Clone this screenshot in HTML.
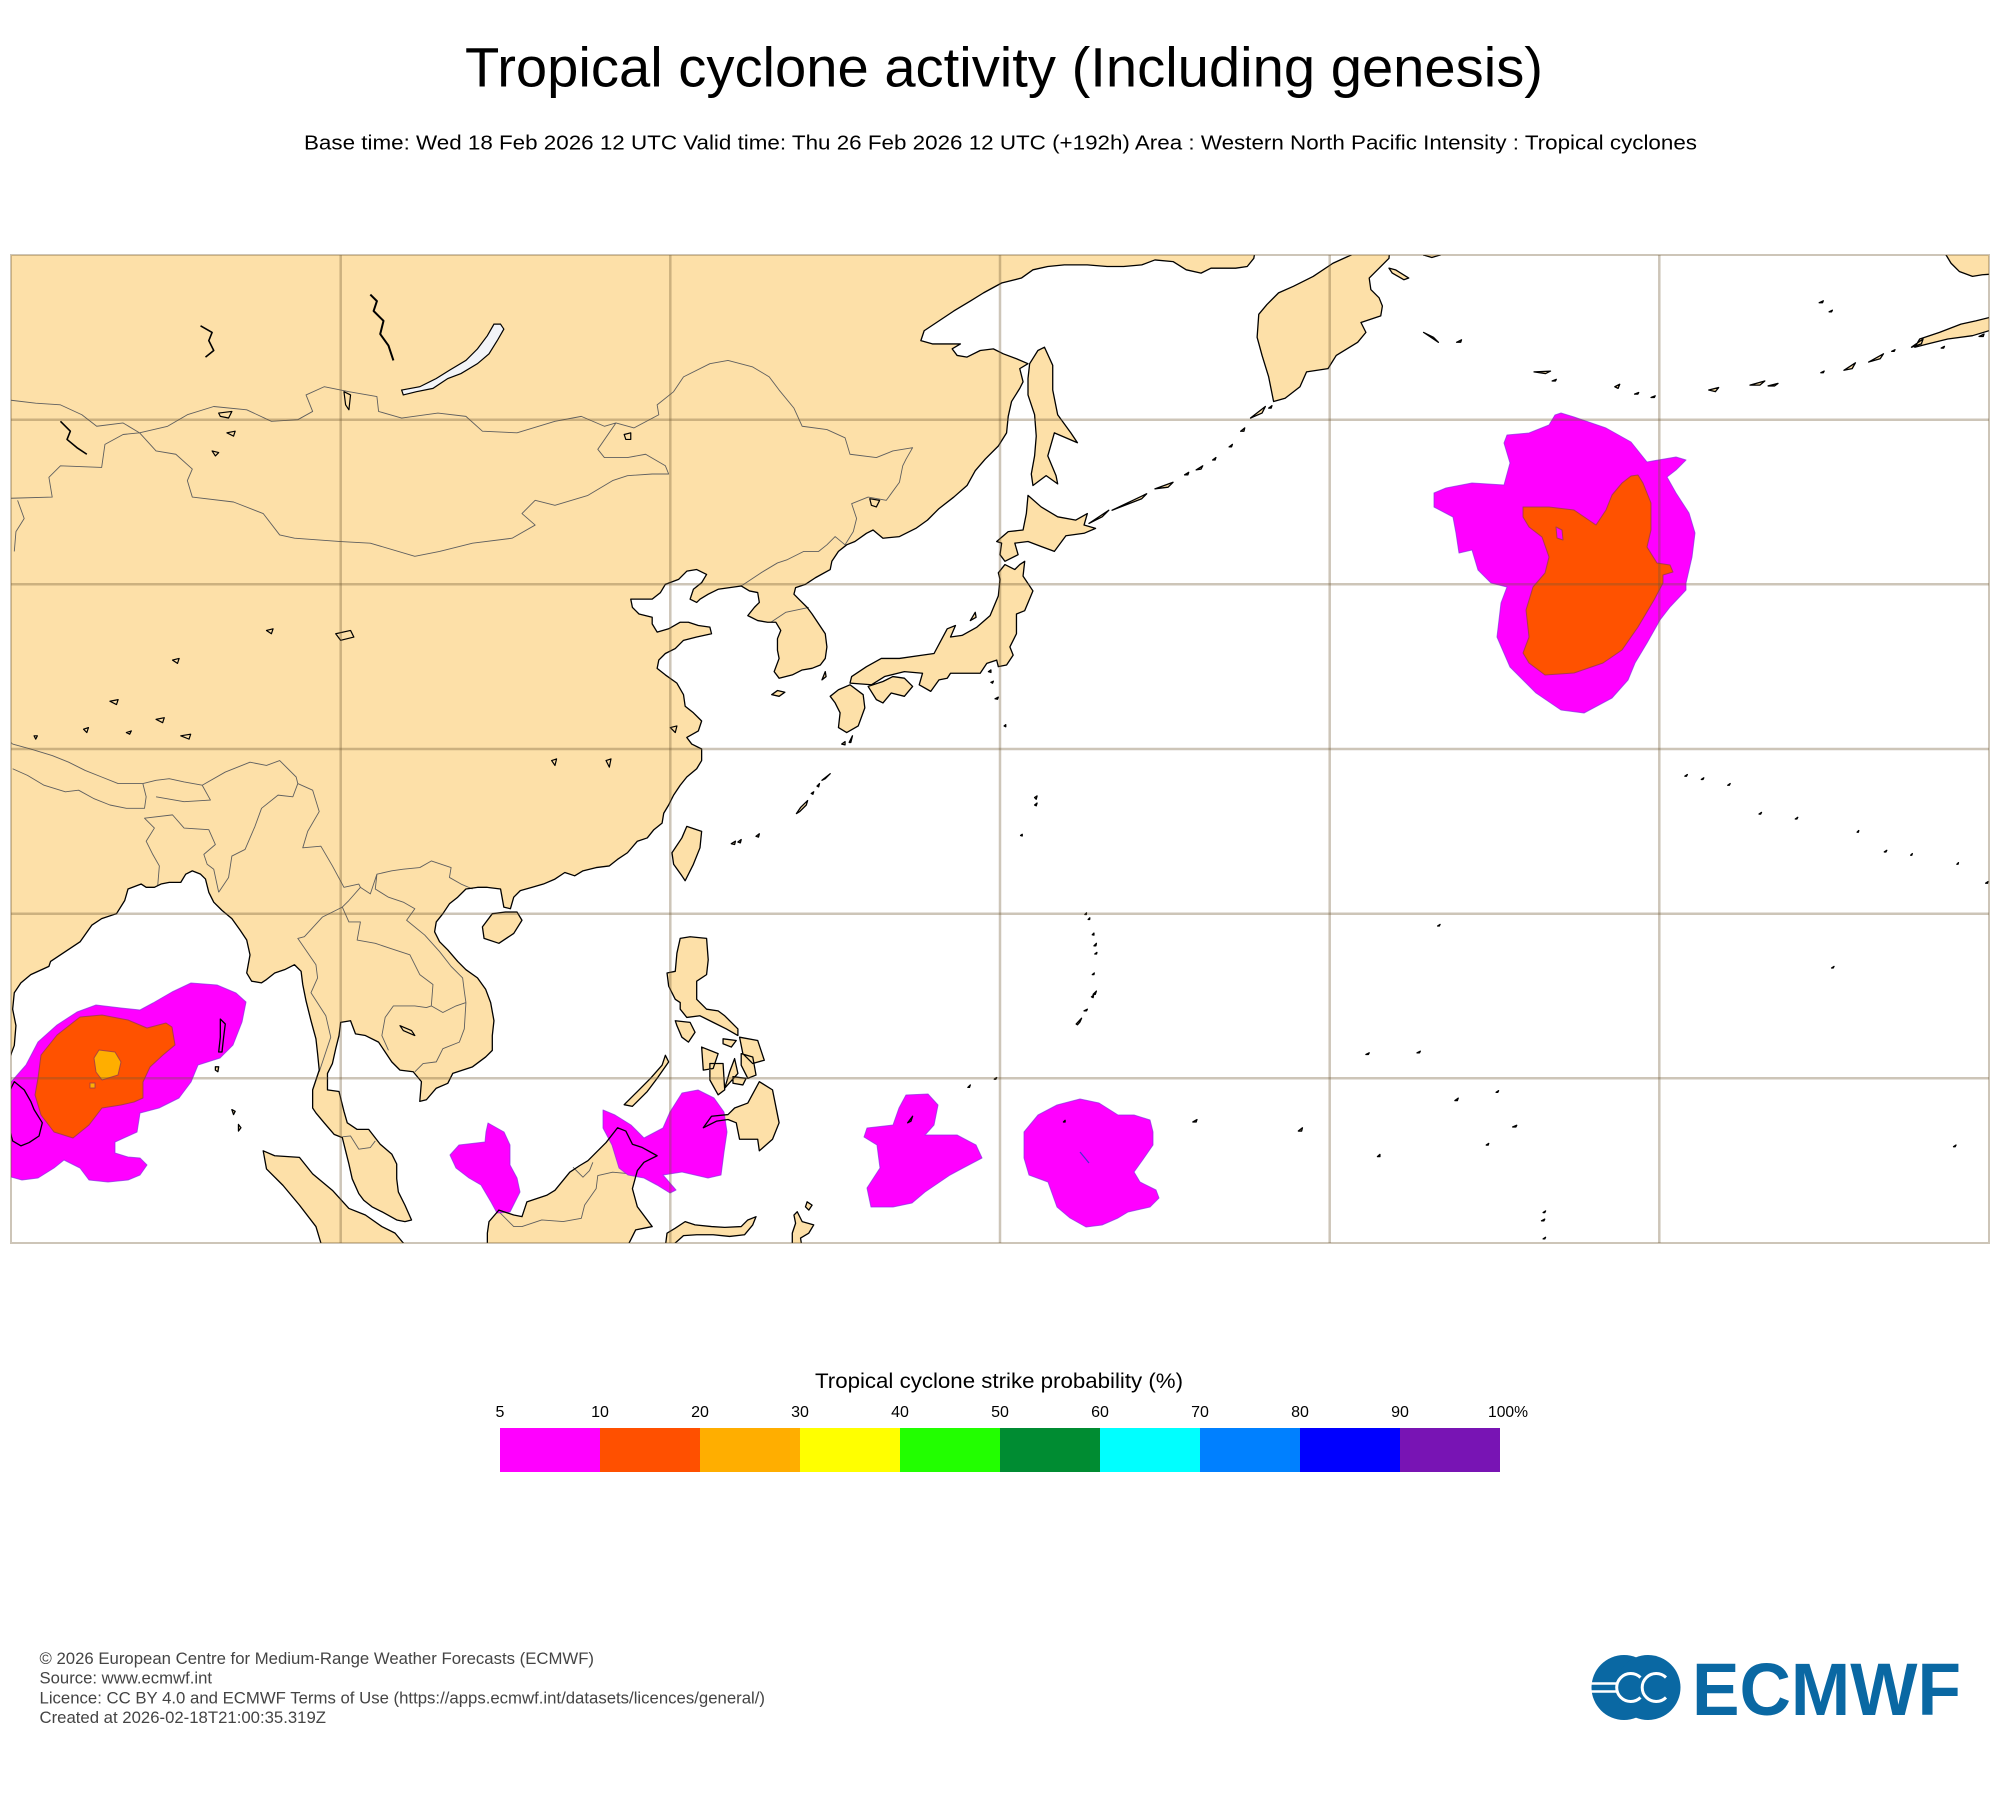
<!DOCTYPE html>
<html>
<head>
<meta charset="utf-8">
<style>
html,body{margin:0;padding:0;background:#ffffff;}
svg{display:block;}
</style>
</head>
<body>
<svg width="2000" height="1800" viewBox="0 0 2000 1800" xmlns="http://www.w3.org/2000/svg" font-family="'Liberation Sans', Arial, sans-serif">
<defs>
<clipPath id="mapclip"><rect x="11" y="255" width="1978" height="988"/></clipPath>
<path id="land" vector-effect="non-scaling-stroke" d="
M70,70 L70,10.3 79.85,10.3 79.9,11.2 80.2,12.0 80.3,13.2 80.1,14.2 80.2,15.2 80.6,15.8 81.2,16.3 82.3,16.8 82.4,17.1 83.3,17.7 84.2,18.3 84.9,19.3 85.5,19.7 86.4,20.0 86.9,20.8 87.1,21.5 87.9,21.8 88.2,21.6 88.7,21.6 89.1,21.8 89.6,21.9 90.3,21.9 90.6,22.4 91.0,22.6 91.5,22.4 91.8,22.1 92.0,21.3 92.3,20.7 92.8,20.2 93.4,19.7 93.9,19.0 94.3,18.4 94.5,17.5 94.3,16.4 94.6,15.9 95.2,15.8 95.5,16.0 96.0,16.4 96.6,16.6 97.2,16.9 97.6,16.5 97.7,15.7 97.9,14.7 98.2,13.5 98.5,12.4 98.6,11.5 98.7,10.5 98.3,9.3 98.3,8.2 98.5,7.9 99.0,7.3 99.6,6.6 100.1,6.4 100.3,5.6 100.5,4.8 100.7,3.9 101.1,3.0 101.4,2.6 101.9,2.2 102.5,1.9 103.4,1.4 103.9,1.3 104.3,1.4 103.9,2.3 103.5,3.1 103.4,3.9 103.4,4.8 103.1,5.4 102.4,6.0 101.7,6.9 101.0,6.9 100.4,7.3 100.2,8.0 99.9,9.2 99.2,9.3 99.2,10.3 99.5,10.9 99.7,11.8 99.9,12.6 100.0,13.4 100.6,13.5 100.9,12.7 101.5,12.6 102.3,12.2 102.7,11.6 103.1,11.0 103.6,10.5 104.4,10.4 104.9,9.8 104.8,8.6 105.2,8.7 105.8,9.4 106.5,9.7 106.8,10.3 107.4,10.5 108.0,10.7 108.8,11.3 109.2,11.7 109.2,12.6 109.3,13.5 109.1,14.6 108.8,15.4 108.3,16.1 107.6,16.6 107.1,17.1 106.5,17.8 106.0,18.3 105.7,18.9 105.8,19.5 106.2,20.0 106.6,20.6 107.1,21.0 107.6,21.5 108.3,21.6 108.9,21.6 109.7,21.5 109.9,20.4 110.3,20.3 110.5,21.0 110.9,21.4 111.6,21.6 112.3,21.8 113.0,22.1 113.6,22.5 114.2,22.3 114.7,22.6 115.5,22.8 116.3,22.9 116.8,23.3 117.4,23.7 118.0,24.4 118.6,24.6 119.0,25.1 119.5,25.5 119.6,26.1 119.9,26.6 120.2,27.2 120.6,27.8 121.0,28.3 121.6,28.8 121.9,29.3 121.9,30.0 121.3,30.3 121.0,30.7 121.7,31.1 121.9,31.7 121.4,32.2 120.9,32.6 120.8,33.3 120.4,34.0 119.7,34.5 119.2,34.9 119.3,35.4 119.7,35.8 120.3,36.1 120.8,36.6 121.6,36.8 122.5,37.0 122.4,37.4 121.7,37.5 121.1,37.7 120.6,37.7 119.9,37.3 119.2,37.1 118.9,37.6 118.9,38.0 118.1,38.2 117.7,38.6 117.6,39.1 118.2,39.1 118.9,39.1 119.4,39.5 119.7,40.0 120.5,40.3 121.0,40.8 121.6,40.9 122.2,40.6 121.9,40.1 121.4,39.7 121.2,39.1 121.6,38.9 121.8,39.1 122.3,39.4 122.9,39.7 123.6,39.8 124.3,39.9 124.8,39.6 125.3,39.5 125.4,38.9 125.1,38.6 124.7,38.1 125.3,37.8 125.9,37.7 126.4,37.7 126.7,37.2 126.5,36.7 126.5,36.0 126.6,35.5 126.3,34.7 126.6,34.3 127.4,34.5 128.0,34.8 128.6,34.9 129.1,35.1 129.4,35.5 129.5,36.2 129.4,37.0 129.0,37.6 128.6,38.2 128.3,38.6 127.8,39.1 127.5,39.4 127.6,39.8 128.2,40.0 128.8,40.4 129.7,40.9 129.8,41.4 130.2,42.0 130.7,42.4 131.2,42.6 131.9,43.1 132.3,43.3 132.9,42.8 133.9,42.9 134.9,43.4 135.6,43.9 136.3,44.6 137.2,45.3 138.0,46.0 138.5,46.9 139.1,47.6 139.9,48.4 140.4,49.2 140.5,50.2 140.7,51.1 141.2,51.9 141.4,52.3 141.2,53.1 141.7,53.4 141.0,53.7 140.2,54.0 139.6,54.3 138.8,54.2 138.0,53.8 137.4,53.9 137.1,54.3 137.6,54.6 136.8,54.6 135.9,54.6 135.2,54.8 135.4,55.4 136.3,56.0 137.2,56.6 138.2,57.2 139.0,57.7 140.1,58.3 141.3,58.6 142.0,59.1 142.9,59.3 143.9,59.4 145.3,59.4 146.5,59.3 147.5,59.3 148.6,59.4 149.4,59.7 150.5,59.6 151.3,59.1 152.2,58.9 152.8,59.2 153.6,59.2 154.3,59.2 155.0,59.3 155.4,59.8 155.6,61 156,70 Z
M161.5,61 L161.3,60 160.2,59.5 159.0,58.7 157.8,58.1 156.9,57.7 156.2,57.0 155.7,56.4 155.6,55.0 155.9,53.9 156.3,52.6 156.6,51.1 157.3,51.3 158.2,52.0 158.6,52.9 159.9,53.1 160.4,53.9 161.7,54.7 162.2,55.3 161.9,55.9 163.1,56.3 163.2,56.9 163.0,57.4 162.5,57.9 162.4,58.6 163.0,59.2 163.6,59.8 163.7,61 Z
M163.6,59.2 L164.0,59.1 164.8,58.6 164.5,58.5 163.8,58.9 Z
M165.6,61 L165.7,60 166.2,59.85 166.7,60 166.8,61 Z
M197.2,61 L197.4,60 197.7,59.5 198.2,59.0 199.0,58.7 199.6,58.8 201,58.9 201,61 Z
M201,55.4 L200.0,55.4 199.0,55.1 197.5,54.9 196.3,54.6 195.5,54.4 195.8,54.9 197.0,55.3 198.3,55.8 199.2,56.0 200.0,56.2 201,56.4 Z
M141.7,45.4 L142.5,44.7 143.5,44.1 144.6,43.9 145.3,44.3 145.1,43.6 145.8,43.4 145.1,43.1 144.0,42.95 143.3,42.0 142.5,42.3 141.7,42.6 140.9,42.5 141.1,41.8 140.3,41.4 140.0,41.8 140.1,42.5 139.8,42.6 140.5,43.2 141.4,43.3 141.6,44.3 Z
M141.5,41.4 L141.4,40.5 142.0,39.6 141.5,38.4 141.0,38.2 141.0,37.0 140.6,36.2 140.8,35.7 140.4,35.1 139.9,35.0 139.8,35.4 139.2,35.2 138.8,34.6 138.2,34.6 137.0,34.6 136.8,34.3 136.3,34.2 135.8,33.5 135.1,33.9 135.3,34.6 134.2,34.7 133.0,34.4 132.2,33.9 130.9,34.0 131.0,34.4 131.9,35.0 132.8,35.5 133.9,35.5 135.3,35.7 136.0,35.8 136.8,37.3 137.3,37.5 137.0,36.8 137.7,36.9 138.6,37.4 139.4,38.1 139.9,39.3 140.0,40.3 139.9,40.7 140.3,41.2 140.9,40.9 141.2,41.2 Z
M132.5,33.0 L132.9,32.8 133.4,33.4 134.2,33.2 134.7,33.8 134.2,34.3 133.5,34.4 132.9,34.1 132.0,33.8 Z
M130.9,33.9 L131.7,33.3 131.8,32.5 131.4,31.4 130.7,31.0 130.2,31.3 130.3,32.2 130.0,32.8 129.7,33.2 130.2,33.6 Z
M142.7,54.4 L143.2,53.3 143.2,51.8 143.5,50.3 144.3,49.2 144.7,48.6 143.3,49.2 142.9,47.8 143.4,46.6 143.5,46.1 142.8,46.6 142.0,46.0 141.9,46.7 142.1,47.8 142.2,49.0 142.1,50.3 141.7,51.5 141.7,52.5 141.8,53.4 142.3,54.2 Z
M121.0,25.3 L121.9,25.0 121.8,24.0 121.4,23.0 120.9,22.0 120.7,22.3 120.2,23.0 120.1,23.7 120.7,24.6 Z
M108.6,19.2 L109.2,20.0 110.0,20.1 110.7,20.1 111.0,19.6 110.5,18.8 109.6,18.2 108.7,18.5 Z
M120.6,18.5 L121.2,18.6 122.2,18.5 122.3,17.2 122.2,16.3 121.6,15.9 121.6,14.8 122.2,14.2 122.9,14.1 123.3,13.8 124.1,13.0 124.1,12.6 123.4,13.0 122.6,13.4 121.8,13.8 121.0,13.7 120.6,14.2 120.6,14.6 120.3,14.8 119.9,15.6 119.8,16.4 120.3,16.5 120.4,17.6 Z
M120.3,13.5 L121.2,13.4 121.5,12.8 121.1,12.2 120.7,12.5 120.4,13.2 Z
M124.2,12.5 L125.3,12.3 125.7,11.1 125.0,10.9 124.4,11.5 Z
M124.3,11.5 L125.0,11.3 125.2,10.2 124.7,10.0 124.3,10.8 Z
M121.9,11.9 L122.9,11.5 122.6,10.6 122.0,10.5 Z
M122.4,10.9 L123.2,10.9 123.3,9.3 122.9,9.0 122.4,9.9 Z
M123.9,11.2 L124.1,10.3 123.3,9.4 123.6,10.4 Z
M123.8,10.1 L124.6,10.0 124.4,9.6 123.8,9.7 Z
M123.2,12.4 L124.0,12.3 123.7,11.9 123.2,12.1 Z
M117.2,8.4 L118.0,9.2 118.8,10.0 119.5,10.8 119.7,11.4 119.9,11.0 119.2,10.0 118.6,9.2 117.7,8.3 Z
M122.0,7.0 L122.5,7.7 123.5,7.8 123.9,8.2 124.7,8.5 125.4,9.8 126.2,9.3 126.6,7.3 126.2,6.3 125.4,5.6 125.3,6.3 124.2,6.3 124.0,7.3 123.5,7.5 122.8,7.4 Z
M108.9,-1 L108.9,0.6 109.0,1.3 109.6,2.0 110.5,1.7 111.0,1.6 111.3,2.5 112.5,2.9 113.0,3.2 113.9,4.3 114.5,4.7 115.0,5.0 115.5,5.5 116.1,6.1 116.8,7.0 117.3,6.8 117.7,6.0 118.3,5.8 119.2,5.3 118.4,4.9 118.0,4.4 117.7,3.3 118.0,2.2 118.9,1.0 117.9,0.8 117.5,0 117.4,-1 Z
M95.3,5.6 L96.0,5.3 97.5,5.2 98.3,4.2 99.5,3.2 100.5,2.1 101.5,1.7 102.5,1.0 103.3,0.6 103.8,0 104,-1 98.6,-1 98.8,0 98.5,1.0 97.5,2.3 96.5,3.5 95.5,4.5 Z
M119.6,-1 L119.8,0.6 120.3,0.9 120.9,1.3 121.5,1.1 122.5,1.0 123.3,0.95 124.3,1.0 124.7,1.4 125.2,1.6 125.0,1.1 124.5,0.5 123.6,0.4 122.6,0.5 121.6,0.5 120.8,0.45 120.3,0 120.4,-1 Z
M127.7,1.9 L128.0,1.3 128.7,1.1 128.4,0.6 127.9,0.3 128.1,-1 127.4,-1 127.4,0.6 127.6,1.2 127.5,1.7 Z
M128.3,2.5 L128.6,2.3 128.4,2.0 128.2,2.2 Z
M80.2,9.8 L80.8,9.3 81.2,8.6 81.4,8.1 81.9,7.3 81.7,6.5 81.1,6.1 80.6,5.9 80.1,6.2 79.9,6.9 79.8,7.6 79.9,8.4 79.9,9.2 Z
M92.7,13.6 L93.0,13.3 92.9,12.5 92.8,11.6 92.6,11.6 92.7,12.5 Z
M92.4,10.7 L92.6,10.7 92.55,10.4 92.4,10.5 Z
M93.4,8.1 L93.6,8.0 93.5,7.8 Z M93.8,7.2 L93.95,7.0 93.8,6.8 Z
M126.15,33.3 L126.5,33.55 126.95,33.45 126.6,33.2 Z
M129.2,34.2 L129.4,34.7 129.45,34.4 Z
M138.2,37.8 L138.5,38.3 138.55,38.0 Z
M127.65,26.08 L127.9,26.45 128.33,26.87 128.25,26.6 127.85,26.2 Z
M129.2,28.1 L129.7,28.5 129.4,28.2 Z
M130.85,30.4 L131.05,30.8 130.95,30.4 Z
M130.4,30.3 L130.6,30.45 130.6,30.25 Z
M125.2,24.7 L125.4,24.85 125.35,24.65 Z M124.1,24.35 L124.3,24.5 124.25,24.3 Z M123.7,24.25 L123.95,24.4 123.9,24.2 Z
M128.9,27.75 L129.05,27.9 129.0,27.7 Z M128.55,27.3 L128.7,27.4 128.65,27.25 Z
M139.3,34.7 L139.45,34.8 139.45,34.65 Z M139.45,34.05 L139.6,34.12 139.55,34.0 Z M139.7,33.05 L139.9,33.15 139.85,33.02 Z M140.25,31.4 L140.35,31.48 140.35,31.35 Z
M142.1,27.05 L142.25,27.15 142.2,26.95 Z M142.1,26.6 L142.25,26.72 142.2,26.55 Z M141.25,24.75 L141.35,24.82 141.35,24.72 Z
M145.65,15.1 L145.85,15.3 145.78,15.1 Z M145.55,14.95 L145.68,15.05 145.65,14.9 Z M145.1,14.1 L145.3,14.2 145.25,14.1 Z
M144.62,13.3 L144.95,13.65 144.85,13.42 144.7,13.25 Z
M145.7,18.05 L145.85,18.2 145.82,18.05 Z M145.6,16.3 L145.72,16.4 145.7,16.3 Z M145.6,18.72 L145.7,18.82 145.7,18.7 Z M145.75,17.55 L145.88,17.65 145.86,17.55 Z M145.35,19.65 L145.45,19.75 145.44,19.65 Z M145.15,19.95 L145.25,20.05 145.24,19.95 Z
M134.4,7.3 L134.7,7.7 134.6,7.4 Z M138.05,9.45 L138.2,9.6 138.15,9.45 Z M139.65,9.95 L139.8,10.05 139.75,9.95 Z
M151.7,7.35 L151.95,7.5 151.9,7.35 Z M158.1,6.8 L158.35,7.0 158.3,6.8 Z M162.9,5.25 L163.05,5.38 163.05,5.25 Z M143.85,7.35 L143.95,7.45 143.95,7.35 Z
M171.1,7.05 L171.35,7.15 171.3,7.05 Z M167.6,8.65 L167.8,8.8 167.75,8.65 Z M169.5,5.95 L169.65,6.05 169.62,5.95 Z M165.3,11.55 L165.5,11.65 165.45,11.55 Z M162.2,11.45 L162.4,11.55 162.35,11.45 Z M170.1,9.15 L170.25,9.25 170.2,9.15 Z
M172.85,1.35 L173.05,1.45 173.0,1.35 Z M172.95,0.25 L173.1,0.35 173.05,0.25 Z M172.95,1.85 L173.1,1.95 173.05,1.85 Z
M166.55,19.25 L166.7,19.35 166.65,19.25 Z M190.45,16.7 L190.6,16.8 190.55,16.7 Z M197.85,5.85 L198.0,5.95 197.95,5.85 Z
M200.3,22.0 L200.6,22.2 200.55,21.95 Z M199.8,21.85 L199.95,21.95 199.92,21.85 Z M198.05,23.0 L198.15,23.1 198.12,23.0 Z M193.65,23.75 L193.8,23.85 193.75,23.75 Z M195.25,23.55 L195.35,23.65 195.32,23.55 Z M188.25,25.75 L188.4,25.85 188.35,25.75 Z M186.05,26.05 L186.2,26.15 186.15,26.05 Z M182.55,28.15 L182.7,28.25 182.65,28.15 Z M181.55,28.35 L181.7,28.45 181.65,28.35 Z M184.15,27.8 L184.3,27.9 184.25,27.8 Z M192.0,24.95 L192.1,25.05 192.08,24.95 Z
M145.4,43.7 L146.6,44.5 146.2,44.1 Z M146.8,44.5 L148.9,45.5 148.6,45.2 Z M149.4,45.8 L150.5,46.2 150.2,45.9 Z
M151.2,46.65 L151.45,46.8 151.4,46.65 Z M151.9,46.95 L152.3,47.2 152.2,47.0 Z M152.9,47.55 L153.1,47.7 153.05,47.55 Z M153.9,48.35 L154.1,48.5 154.05,48.35 Z M154.6,49.3 L154.85,49.5 154.8,49.3 Z
M155.2,50.1 L156.1,50.8 155.9,50.4 Z M156.3,50.7 L156.5,50.85 156.45,50.7 Z
M165.7,55.3 L166.6,54.7 166.3,55.0 Z M167.7,54.7 L168.0,54.85 167.95,54.7 Z
M172.4,52.9 L173.4,52.95 173.1,52.8 Z M173.5,52.35 L173.75,52.45 173.7,52.35 Z
M177.3,52.0 L177.6,52.15 177.5,51.9 Z M178.5,51.55 L178.75,51.65 178.7,51.55 Z M179.5,51.35 L179.75,51.45 179.7,51.35 Z
M183.0,51.8 L183.6,51.95 183.4,51.7 Z M185.5,52.1 L186.4,52.35 186.1,52.1 Z M186.6,52.05 L187.2,52.2 187.0,52.05 Z
M189.8,52.85 L190.0,52.95 189.95,52.85 Z M191.2,53.0 L191.9,53.45 191.7,53.1 Z M192.7,53.5 L193.6,54.0 193.4,53.7 Z M194.1,54.15 L194.3,54.25 194.25,54.15 Z
M195.3,54.4 L196.0,54.9 195.9,54.6 Z M197.1,54.35 L197.3,54.45 197.25,54.35 Z M199.4,55.05 L199.7,55.2 199.65,55.05 Z
M189.7,57.1 L189.95,57.22 189.9,57.1 Z M190.3,56.55 L190.5,56.65 190.45,56.55 Z
"/>
<path id="baikal" vector-effect="non-scaling-stroke" d="M109.7,55.8 L109.9,55.5 109.5,54.8 109.0,54.0 108.3,53.4 107.3,52.8 106.5,52.5 105.6,51.9 104.6,51.7 103.8,51.5 103.7,51.8 104.8,52.0 105.8,52.5 106.6,53.0 107.6,53.6 108.3,54.3 108.9,55.1 109.3,55.8 Z"/>
</defs>

<!-- Title -->
<text x="465" y="86.5" font-size="56" textLength="1078" lengthAdjust="spacingAndGlyphs" fill="#000">Tropical cyclone activity (Including genesis)</text>
<text x="304" y="149.5" font-size="20" textLength="1393" lengthAdjust="spacingAndGlyphs" fill="#000">Base time: Wed 18 Feb 2026 12 UTC Valid time: Thu 26 Feb 2026 12 UTC (+192h) Area : Western North Pacific Intensity : Tropical cyclones</text>

<!-- Map -->
<g clip-path="url(#mapclip)">
  <rect x="11" y="255" width="1978" height="988" fill="#ffffff"/>
  <g transform="matrix(16.483 0 0 -16.467 -1307.64 1243.02)">
    <use href="#land" fill="#fde0a8" stroke="none"/>
    <use href="#baikal" fill="#f2f4f8" stroke="none"/>
    <path vector-effect="non-scaling-stroke" fill="none" stroke="#5f5f5f" stroke-width="0.9" stroke-linejoin="round" d="
M79,51.3 L81.5,51.0 83,50.9 84.3,50.3 85.2,49.6 86.8,49.8 87.8,49.2
M79,45.2 L82.5,45.3 82.3,46.5 83.0,47.2 85.5,47.1 85.7,48.5 86.8,49.1 87.8,49.2
M80.2,42.0 L80.3,43.2 80.8,44.0 80.4,45.1
M87.8,49.2 L89.5,49.6 90.7,50.3 92.3,50.8 94.3,50.6 95.8,49.9 97.4,50.0 98.3,50.5 97.9,51.5 99.0,52.0 100.5,51.7 102.2,51.4 102.3,50.5 103.7,50.1 105.9,50.4 107.6,50.2 108.6,49.3 110.7,49.2 113.0,49.9 114.6,50.2 116.0,49.6 116.7,49.8 115.6,48.2 116.0,47.7 117.4,47.7 118.5,47.9 119.7,47.2 119.9,46.7 118.9,46.7 117.4,46.6 116.5,46.3 115.0,45.4 113.0,44.8 111.8,45.1 111.0,44.3 111.8,43.6 110.4,42.8 108.0,42.5 106.0,42.0 104.5,41.7 101.8,42.5 100.0,42.6 97.2,42.8 96.3,43.0 95.3,44.3 93.5,45.0 91.0,45.3 90.7,46.3 91.0,47.0 90.0,47.9 88.8,48.1 87.8,49.2
M116.7,49.8 L117.8,49.5 119.3,50.3 119.2,50.9 120.2,51.7 120.8,52.6 122.4,53.4 123.5,53.6 125.0,53.2 126.0,52.6 126.6,51.8 127.5,50.7 128.0,49.6 129.5,49.4 130.6,48.9 130.9,47.9 132.5,47.7 133.5,48.1 134.7,48.3 134.3,47.6 134.1,47.2 133.9,46.2 133.1,45.1 132.0,45.3 131.0,44.9 131.3,44.0 131.1,43.2 130.6,42.4 130.0,42.9 129.5,42.4 129.0,42.0 128.1,42.0 127.1,41.5 126.5,41.3 125.5,40.7 124.3,39.9
M126.1,37.7 L127.0,38.3 128.4,38.6
M80.1,30.3 L81.2,30.0 82.5,29.6 83.5,29.2 84.5,28.7 85.5,28.3 86.5,27.9 88.0,27.9
M80.1,28.8 L81.0,28.4 82.0,27.8 83.3,27.4 84.1,27.5 85.0,27.0 86.0,26.6 87.0,26.4 88.1,26.4 88.2,27.1 88.0,27.9
M79,31.2 L80.1,30.3
M88.0,27.9 L88.8,28.1 89.6,28.2 90.5,28.0 91.6,27.8
M88.8,27.1 L90.5,26.8 92.1,26.9 91.6,27.8
M91.6,27.8 L93.0,28.6 94.5,29.2 95.5,29.0 96.3,29.3 97.3,28.3 97.4,27.9
M88.9,21.7 L89.0,22.9 88.6,23.6 88.2,24.4 88.7,25.2 88.1,25.8 89.8,26.0 90.5,25.2 92.0,25.1 92.4,24.2 91.7,23.6 91.9,23.0 92.3,22.7 92.6,21.3
M92.6,21.3 L93.2,22.2 93.4,23.5 94.2,23.9 94.8,25.3 95.2,26.4 96.2,27.2 97.1,27.1 97.4,27.9
M97.4,27.9 L98.3,27.5 98.7,26.2 98.0,25.0 97.7,24.0 98.8,24.1 99.5,22.9 100.2,21.6 101.1,21.8 101.2,21.6 101.8,21.2 102.2,22.4 103.1,22.6 103.8,22.7 104.8,22.8 105.5,23.2 106.7,22.8 106.6,22.2 107.3,21.8 108.0,21.5
M101.2,21.6 L100.5,20.8 100.1,20.4 98.9,19.8 97.8,18.6 97.4,18.5 98.5,16.9 98.6,16.1 98.2,15.2 99.1,13.8 99.4,12.5 98.7,10.4
M100.1,20.4 L100.5,19.5 101.2,19.5 101.0,18.4 102.1,18.2 103.0,17.9 104.2,17.5 104.8,16.3 105.6,15.7 105.5,14.4
M102.2,22.4 L102.1,21.5 102.9,21.0 103.8,20.7 104.5,20.3 104.0,19.6 105.1,18.7 106.0,17.7 106.7,16.8 107.4,16.1 107.5,15.3 107.6,14.6
M102.9,11.7 L102.5,12.6 102.7,13.7 103.2,14.4 104.5,14.4 105.2,14.3 105.5,14.4 106.2,14.0 107.0,14.4 107.6,14.6 107.5,13.0 107.2,12.2 106.2,11.8 105.8,11.0 105.0,10.9 104.5,10.4
M100.1,6.45 L100.6,6.5 101.1,5.7 101.8,5.8 102.1,6.2
M109.6,1.9 L110.5,1.0 111.0,1.0 112.2,1.4 113.5,1.3 114.6,1.5 114.8,2.3 115.5,3.3 115.6,4.1 116.5,4.3 117.6,4.2
M114.1,4.6 L114.7,4.0 115.1,4.4 115.3,4.9
"/>
  </g>

  <!-- probability blobs -->
  <g stroke="#8a2be2" stroke-width="1" stroke-opacity="0.7" stroke-linejoin="round">
    <path fill="#ff00ff" d="M1561,413 L1574,417 1606,428 1631,442 1647,462 1676,457 1686,460 1676,470 1667,477 1676,493 1689,513 1695,533 1692,557 1686,583 1686,590 1670,607 1660,620 1647,643 1635,663 1628,680 1612,698 1584,713 1561,710 1536,693 1510,667 1497,637 1501,603 1507,587 1491,583 1478,570 1472,550 1459,553 1456,533 1453,517 1434,507 1434,493 1446,488 1472,483 1504,485 1510,463 1504,443 1507,435 1529,433 1549,425 1555,415 Z"/>
    <path fill="#ff00ff" d="M0,1082 L11,1082 26,1065 38,1042 57,1025 77,1012 96,1005 121,1008 140,1010 153,1003 172,992 191,983 217,985 236,993 246,1002 242,1022 233,1045 220,1058 198,1065 191,1082 179,1098 159,1108 140,1113 137,1132 115,1142 115,1153 128,1157 140,1158 147,1165 140,1175 128,1180 108,1182 89,1180 80,1168 64,1160 54,1168 38,1178 22,1180 11,1177 0,1177 Z"/>
    <path fill="#ff00ff" d="M488,1123 L504,1132 510,1145 510,1165 517,1178 520,1192 510,1212 497,1213 491,1202 481,1185 469,1178 456,1168 450,1155 459,1145 485,1142 486,1132 Z"/>
    <path fill="#ff00ff" d="M603,1110 L615,1115 631,1125 644,1138 663,1128 670,1112 682,1093 698,1090 714,1098 724,1112 727,1132 724,1152 721,1175 708,1178 682,1172 663,1175 676,1190 670,1193 657,1185 644,1178 628,1175 619,1168 612,1145 603,1128 Z"/>
    <path fill="#ff00ff" d="M906,1095 L928,1094 938,1105 934,1125 925,1135 957,1135 976,1145 982,1158 963,1168 950,1175 925,1192 912,1203 893,1207 871,1207 867,1188 880,1168 877,1145 864,1137 867,1128 893,1125 899,1108 Z"/>
    <path fill="#ff00ff" d="M1080,1099 L1099,1103 1118,1115 1134,1115 1150,1120 1153,1132 1153,1145 1144,1158 1134,1172 1140,1182 1156,1190 1159,1198 1150,1207 1128,1212 1118,1218 1102,1225 1086,1227 1070,1218 1057,1207 1048,1182 1029,1175 1024,1158 1024,1132 1038,1115 1057,1105 Z"/>
  </g>
  <g stroke="#9a3b4a" stroke-width="1" stroke-opacity="0.8" stroke-linejoin="round">
    <path fill="#ff5200" d="M1638,475 L1643,483 1651,503 1651,530 1647,547 1657,563 1670,565 1673,572 1663,575 1663,583 1654,600 1638,627 1622,650 1603,663 1574,673 1545,675 1529,663 1523,653 1529,637 1526,610 1533,587 1545,573 1549,557 1542,537 1529,527 1523,517 1523,507 1549,507 1574,510 1596,525 1606,510 1612,495 1622,483 1631,476 Z"/>
    <path fill="#ff00ff" d="M1556,527 L1562,530 1563,540 1557,538 Z"/>
    <path fill="#ff5200" d="M38,1078 L41,1055 57,1035 80,1017 102,1015 128,1020 147,1028 166,1023 172,1027 175,1045 163,1055 150,1067 143,1082 143,1098 134,1102 121,1105 102,1108 89,1125 73,1138 54,1132 41,1115 35,1095 Z"/>
    <path fill="#ffae00" d="M99,1050 L115,1052 121,1062 118,1075 102,1080 96,1072 94,1058 Z"/>
    <rect x="90" y="1083" width="5" height="5" fill="#ffae00"/>
  </g>
  <path d="M1080,1152 L1089,1163" stroke="#4b2bd0" stroke-width="1.2"/>

  <!-- coastlines & lakes on top -->
  <g transform="matrix(16.483 0 0 -16.467 -1307.64 1243.02)">
    <use href="#land" fill="none" stroke="#000" stroke-width="1.3" stroke-linejoin="round"/>
    <use href="#baikal" fill="none" stroke="#000" stroke-width="1.2"/>
    <g fill="none" stroke="#000" stroke-width="1.2" stroke-linejoin="round">
      <path vector-effect="non-scaling-stroke" stroke-width="2" d="M101.8,57.6 L102.2,57.2 102.0,56.6 102.6,56.0 102.4,55.2 102.9,54.5 103.2,53.6"/>
      <path vector-effect="non-scaling-stroke" stroke-width="1.6" d="M91.5,55.7 L92.2,55.3 92.0,54.8 92.3,54.2 91.8,53.8"/>
      <path vector-effect="non-scaling-stroke" stroke-width="1.6" d="M83.0,49.9 L83.6,49.3 83.4,48.8 84.0,48.3 84.6,47.9"/>
      <path vector-effect="non-scaling-stroke" d="M100.2,51.7 L100.6,51.5 100.5,50.6 100.3,50.9 Z"/>
      <path vector-effect="non-scaling-stroke" d="M92.6,50.4 L93.4,50.5 93.2,50.1 92.7,50.2 Z"/>
      <path vector-effect="non-scaling-stroke" d="M93.1,49.2 L93.6,49.3 93.5,49.0 Z"/>
      <path vector-effect="non-scaling-stroke" d="M92.2,48.1 L92.6,48.0 92.4,47.8 Z"/>
      <path vector-effect="non-scaling-stroke" d="M117.2,49.1 L117.6,49.2 117.6,48.8 117.3,48.8 Z"/>
      <path vector-effect="non-scaling-stroke" d="M132.1,45.2 L132.7,45.1 132.5,44.7 132.2,44.8 Z"/>
      <path vector-effect="non-scaling-stroke" d="M99.7,37.0 L100.6,37.2 100.8,36.8 100.0,36.6 Z"/>
      <path vector-effect="non-scaling-stroke" d="M103.6,13.2 L104.3,12.9 104.5,12.6 103.8,12.9 Z"/>
      <path vector-effect="non-scaling-stroke" d="M90.3,30.8 L90.9,30.9 90.8,30.6 Z"/>
      <path vector-effect="non-scaling-stroke" d="M88.8,31.8 L89.3,31.9 89.2,31.6 Z"/>
      <path vector-effect="non-scaling-stroke" d="M81.4,30.8 L81.6,30.8 81.5,30.6 Z"/>
      <path vector-effect="non-scaling-stroke" d="M86.0,32.9 L86.5,33.0 86.4,32.7 Z"/>
      <path vector-effect="non-scaling-stroke" d="M87.0,31.0 L87.3,31.1 87.2,30.9 Z"/>
      <path vector-effect="non-scaling-stroke" d="M84.4,31.2 L84.7,31.3 84.6,31.0 Z"/>
      <path vector-effect="non-scaling-stroke" d="M89.8,35.4 L90.2,35.5 90.1,35.2 Z"/>
      <path vector-effect="non-scaling-stroke" d="M95.5,37.2 L95.9,37.3 95.8,37.0 Z"/>
      <path vector-effect="non-scaling-stroke" d="M116.1,29.3 L116.4,29.4 116.3,28.9 Z"/>
      <path vector-effect="non-scaling-stroke" d="M112.8,29.3 L113.1,29.4 113.0,29.0 Z"/>
      <path vector-effect="non-scaling-stroke" d="M120.0,31.3 L120.4,31.4 120.3,31.0 Z"/>
    </g>
  </g>

  <!-- graticule -->
  <g stroke="rgb(112,89,52)" stroke-opacity="0.35" stroke-width="2.5" fill="none">
    <path d="M340.7,255 V1243 M670.3,255 V1243 M1000,255 V1243 M1329.7,255 V1243 M1659.3,255 V1243"/>
    <path d="M11,419.7 H1989 M11,584.3 H1989 M11,749 H1989 M11,913.7 H1989 M11,1078.3 H1989"/>
  </g>
</g>
<rect x="11" y="255" width="1978" height="988" fill="none" stroke="rgb(112,89,52)" stroke-opacity="0.35" stroke-width="2"/>

<!-- Colour bar -->
<text x="815" y="1388" font-size="21" textLength="368" lengthAdjust="spacingAndGlyphs" fill="#000">Tropical cyclone strike probability (%)</text>
<g font-size="16" fill="#000" text-anchor="middle">
  <text x="500" y="1417">5</text>
  <text x="600" y="1417">10</text>
  <text x="700" y="1417">20</text>
  <text x="800" y="1417">30</text>
  <text x="900" y="1417">40</text>
  <text x="1000" y="1417">50</text>
  <text x="1100" y="1417">60</text>
  <text x="1200" y="1417">70</text>
  <text x="1300" y="1417">80</text>
  <text x="1400" y="1417">90</text>
</g>
<text x="1488" y="1417" font-size="16" textLength="40" lengthAdjust="spacingAndGlyphs" fill="#000">100%</text>
<rect x="500" y="1428" width="100" height="44" fill="#ff00ff"/>
<rect x="600" y="1428" width="100" height="44" fill="#ff5000"/>
<rect x="700" y="1428" width="100" height="44" fill="#ffae00"/>
<rect x="800" y="1428" width="100" height="44" fill="#ffff00"/>
<rect x="900" y="1428" width="100" height="44" fill="#22ff00"/>
<rect x="1000" y="1428" width="100" height="44" fill="#008c32"/>
<rect x="1100" y="1428" width="100" height="44" fill="#00ffff"/>
<rect x="1200" y="1428" width="100" height="44" fill="#0080ff"/>
<rect x="1300" y="1428" width="100" height="44" fill="#0000ff"/>
<rect x="1400" y="1428" width="100" height="44" fill="#7814b4"/>

<!-- Footer -->
<g font-size="16.5" fill="#444444">
  <text x="39.5" y="1664" textLength="554.5" lengthAdjust="spacingAndGlyphs">© 2026 European Centre for Medium-Range Weather Forecasts (ECMWF)</text>
  <text x="39.5" y="1683.7" textLength="172.5" lengthAdjust="spacingAndGlyphs">Source: www.ecmwf.int</text>
  <text x="39.5" y="1703.3" textLength="725.5" lengthAdjust="spacingAndGlyphs">Licence: CC BY 4.0 and ECMWF Terms of Use (https://apps.ecmwf.int/datasets/licences/general/)</text>
  <text x="39.5" y="1723" textLength="286.5" lengthAdjust="spacingAndGlyphs">Created at 2026-02-18T21:00:35.319Z</text>
</g>

<!-- ECMWF logo -->
<g>
  <circle cx="1624" cy="1687.5" r="32.5" fill="#0a68a3"/>
  <circle cx="1648" cy="1687.5" r="32.5" fill="#0a68a3"/>
  <path d="M1640.5,1677.5 A14,14 0 1 0 1640.5,1697.5" fill="none" stroke="#ffffff" stroke-width="3"/>
  <path d="M1666,1677.5 A14,14 0 1 0 1666,1697.5" fill="none" stroke="#ffffff" stroke-width="3"/>
  <path d="M1590,1683.5 H1617 M1590,1691.5 H1617" stroke="#ffffff" stroke-width="2.5"/>
  <text x="1692" y="1715" font-size="74" font-weight="bold" fill="#0a68a3" textLength="269" lengthAdjust="spacingAndGlyphs">ECMWF</text>
</g>
</svg>
</body>
</html>
